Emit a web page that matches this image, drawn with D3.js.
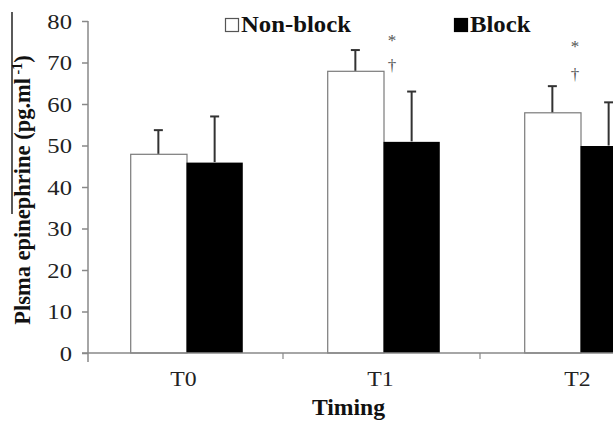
<!DOCTYPE html>
<html>
<head>
<meta charset="utf-8">
<script src="https://cdn.jsdelivr.net/npm/d3@7"></script>
<style>
  html, body { margin: 0; padding: 0; background: #fff; }
  svg { display: block; }
  text { font-family: "Liberation Serif", "Times New Roman", serif; }
</style>
</head>
<body>
<svg id="chart" width="613" height="422"></svg>
<script>
// ---- data ----
const categories = ["T0", "T1", "T2"];
const seriesNames = ["Non-block", "Block"];
const nonBlockMean = [48, 68, 58];
const nonBlockErr = [5.7, 5.0, 6.3];
const blockMean = [46, 51, 50];
const blockErr = [11, 12, 10.4];
const yTicks = [0, 10, 20, 30, 40, 50, 60, 70, 80];
const annotTiming = ["T1", "T1", "T2", "T2"];
const annotSymbol = ["*", "\u2020", "*", "\u2020"];
const annotValue = [76.5, 69.2, 75.0, 67.0];

// ---- layout / style ----
const W = 613, H = 422;
const x0 = 88, y0 = 353, yTop = 21;
const catStep = 197;
const annotDx = { T1: 8.5, T2: -5.5 };

const svg = d3.select("#chart");

const y = d3.scaleLinear().domain([0, 80]).range([y0, yTop]);
const x = d3.scaleBand().domain(categories.concat(["_"])).range([x0, x0 + catStep * 4]).padding(0);
const xs = d3.scaleBand().domain(seriesNames).range([0, x.bandwidth()]).paddingInner(0).paddingOuter(0.75);

const rows = categories.map((c, i) => ({
  cat: c,
  vals: [
    { s: "Non-block", v: nonBlockMean[i], e: nonBlockErr[i] },
    { s: "Block", v: blockMean[i], e: blockErr[i] }
  ]
}));

// bars
const g = svg.append("g");
const grp = g.selectAll("g.cat").data(rows).join("g")
  .attr("transform", d => `translate(${x(d.cat)},0)`);

grp.selectAll("rect").data(d => d.vals).join("rect")
  .attr("x", d => xs(d.s) + (d.s === "Non-block" ? 0.5 : 0))
  .attr("y", d => y(d.v) + 0.5)
  .attr("width", xs.bandwidth())
  .attr("height", d => y0 - y(d.v) - 0.5)
  .attr("fill", d => d.s === "Non-block" ? "#fff" : "#000")
  .attr("stroke", d => d.s === "Non-block" ? "#7a7a7a" : "none")
  .attr("stroke-width", 1.2);

// error bars (upward only)
const eb = grp.selectAll("g.eb").data(d => d.vals).join("g").attr("class", "eb");
eb.append("line")
  .attr("x1", d => xs(d.s) + xs.bandwidth() / 2)
  .attr("x2", d => xs(d.s) + xs.bandwidth() / 2)
  .attr("y1", d => y(d.v))
  .attr("y2", d => y(d.v + d.e))
  .attr("stroke", "#333").attr("stroke-width", 2);
eb.append("line")
  .attr("x1", d => xs(d.s) + xs.bandwidth() / 2 - 4.5)
  .attr("x2", d => xs(d.s) + xs.bandwidth() / 2 + 4.5)
  .attr("y1", d => y(d.v + d.e))
  .attr("y2", d => y(d.v + d.e))
  .attr("stroke", "#333").attr("stroke-width", 2);

// y axis
const yAxis = d3.axisLeft(y).tickValues(yTicks).tickSize(6).tickPadding(8).tickFormat(d3.format("d"));
const ya = svg.append("g").attr("transform", `translate(${x0},0)`).call(yAxis);
ya.select(".domain").attr("stroke", "#888").attr("stroke-width", 1.5)
  .attr("d", `M0,${yTop}V${y0 + 9}`);
ya.selectAll(".tick line").attr("stroke", "#888").attr("stroke-width", 1.5);
ya.selectAll(".tick text")
  .attr("font-family", "Liberation Serif").attr("font-size", 22).attr("fill", "#222")
  .attr("dy", "0.34em")
  .each(function() {
    const t = d3.select(this);
    const xx = +t.attr("x");
    t.attr("x", null).attr("transform", `translate(${xx - 2},0) scale(1.12,1)`);
  });

// x axis
const xa = svg.append("g").attr("transform", `translate(0,${y0})`);
xa.append("line").attr("x1", x0 - 6).attr("x2", x0 + catStep * 4).attr("y1", 0).attr("y2", 0)
  .attr("stroke", "#888").attr("stroke-width", 1.5);
xa.selectAll("line.tk").data(categories.slice(1)).join("line").attr("class", "tk")
  .attr("x1", d => x(d) - 2).attr("x2", d => x(d) - 2).attr("y1", 0).attr("y2", 6)
  .attr("stroke", "#888").attr("stroke-width", 1.2);
xa.selectAll("text").data(categories).join("text")
  .attr("transform", d => `translate(${x(d) + x.bandwidth() / 2 - 3},33) scale(1.08,1)`)
  .attr("text-anchor", "middle").attr("font-size", 22).attr("fill", "#222")
  .text(d => d);

// axis titles
svg.append("text")
  .attr("transform", "translate(348.5,415) scale(1.03,1)")
  .attr("text-anchor", "middle").attr("font-size", 23).attr("font-weight", "bold").attr("fill", "#111")
  .text("Timing");

const yt = svg.append("text")
  .attr("transform", "translate(30,190) rotate(-90)")
  .attr("text-anchor", "middle").attr("font-size", 22.5).attr("font-weight", "bold").attr("fill", "#111");
yt.append("tspan").text("Plsma epinephrine (pg.ml");
yt.append("tspan").attr("font-size", 14).attr("dy", -8).text(" -1");
yt.append("tspan").attr("dy", 8).text(")");

// stray vertical line at far left
svg.append("line").attr("x1", 12).attr("x2", 12).attr("y1", 12).attr("y2", 214)
  .attr("stroke", "#000").attr("stroke-width", 1.3);

// significance marks
svg.selectAll("text.annot").data(annotTiming.map((t, i) => ({ t, s: annotSymbol[i], v: annotValue[i] })))
  .join("text").attr("class", "annot")
  .attr("x", d => x(d.t) + xs("Block") + annotDx[d.t])
  .attr("y", d => y(d.v))
  .attr("dy", d => d.s === "*" ? "0.62em" : "0.3em")
  .attr("text-anchor", "middle").attr("font-size", 17).attr("fill", "#555")
  .text(d => d.s);

// legend
const legend = svg.append("g");
const legX = [225, 454];
seriesNames.forEach((s, i) => {
  legend.append("rect")
    .attr("x", legX[i] + 0.5).attr("y", 18.5).attr("width", 13).attr("height", 13)
    .attr("fill", i === 0 ? "#fff" : "#000")
    .attr("stroke", i === 0 ? "#555" : "#000").attr("stroke-width", 1.2);
  legend.append("text")
    .attr("transform", `translate(${legX[i] + 16},32) scale(1.1,1)`)
    .attr("font-size", 22.5).attr("font-weight", "bold").attr("fill", "#111")
    .text(s);
});
</script>
</body>
</html>
